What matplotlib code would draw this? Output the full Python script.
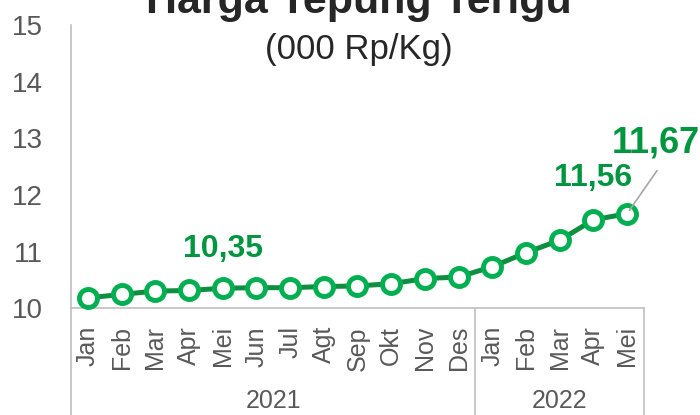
import matplotlib
matplotlib.use("Agg")
import matplotlib.pyplot as plt
from matplotlib.lines import Line2D

plt.rcParams['font.family'] = ['Liberation Sans Narrow', 'Liberation Sans', 'DejaVu Sans']

months = ['Jan', 'Feb', 'Mar', 'Apr', 'Mei', 'Jun', 'Jul', 'Agt', 'Sep', 'Okt', 'Nov', 'Des',
          'Jan', 'Feb', 'Mar', 'Apr', 'Mei']
years = ['2021', '2022']
year_counts = [12, 5]
prices = [10.18, 10.24, 10.30, 10.31, 10.35, 10.36, 10.36, 10.38, 10.39, 10.43, 10.52, 10.55,
          10.73, 10.98, 11.20, 11.56, 11.67]
yticks = [10, 11, 12, 13, 14, 15]

line_green = '#0E8E3E'
marker_green = '#00B050'
text_green = '#009640'
grey = '#BFBFBF'
label_grey = '#595959'


def fmt(v):
    return f"{v:.2f}".replace('.', ',')


fig = plt.figure(figsize=(7, 4.15), dpi=100)
ax = fig.add_axes([0.1014, 0.2578, 0.8186, 0.6808])

x = list(range(len(prices)))
ax.plot(x, prices, color=line_green, lw=3.6, marker='o', markersize=13,
        markerfacecolor='white', markeredgecolor=marker_green, markeredgewidth=3.5,
        clip_on=False, zorder=3)

ax.set_xlim(-0.5, len(prices) - 0.5)
ax.set_ylim(10, 15)
ax.set_yticks(yticks)
ax.set_yticklabels([str(t) for t in yticks], fontsize=20, color=label_grey)
ax.set_xticks(x)
ax.set_xticklabels(months, rotation=90, fontsize=18, color=label_grey)
ax.tick_params(axis='both', length=0)
ax.tick_params(axis='x', pad=13)
ax.tick_params(axis='y', pad=20)

for s in ['top', 'right']:
    ax.spines[s].set_visible(False)
for s in ['left', 'bottom']:
    ax.spines[s].set_color(grey)
    ax.spines[s].set_linewidth(1.2)

# category group separators and year labels
trans = ax.get_xaxis_transform()
start = -0.5
for yr, n in zip(years, year_counts):
    ax.add_line(Line2D([start, start], [0, -0.38], transform=trans, color=grey,
                       lw=1.2, clip_on=False))
    ax.text(start + n / 2, -0.33, yr, transform=trans, ha='center', va='center',
            fontsize=18, color=label_grey)
    start += n
ax.add_line(Line2D([start, start], [0, -0.38], transform=trans, color=grey,
                   lw=1.2, clip_on=False))

# data labels
ax.annotate(fmt(prices[4]), (4, prices[4]), xytext=(0, 28), textcoords='offset points',
            ha='center', va='center', fontsize=23, fontweight='bold', color=text_green)
ax.annotate(fmt(prices[15]), (15, prices[15]), xytext=(0, 30), textcoords='offset points',
            ha='center', va='center', fontsize=23, fontweight='bold', color=text_green)
ax.annotate(fmt(prices[16]), (16, prices[16]), xytext=(21, 51), textcoords='offset points',
            ha='center', va='center', fontsize=26, fontweight='bold', color=text_green,
            annotation_clip=False)
ax.annotate('', (16, prices[16]), xytext=(21.5, 31), textcoords='offset points',
            arrowprops=dict(arrowstyle='-', color='#A6A6A6', lw=1.2, shrinkA=0, shrinkB=3))

fig.text(0.513, 1 - 13 / 415, 'Harga Tepung Terigu', ha='center', va='baseline',
         fontsize=31, fontweight='bold', color='#262626')
fig.text(0.513, 1 - 49 / 415, '(000 Rp/Kg)', ha='center', va='center',
         fontsize=25, color='#262626')

fig.savefig('out.png', dpi=100)
